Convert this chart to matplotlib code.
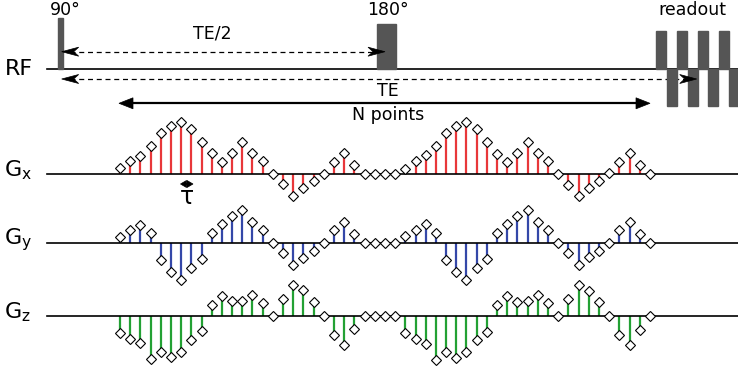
import numpy as np
import matplotlib
matplotlib.use("Agg")
import matplotlib.pyplot as plt
from matplotlib.patches import Polygon, Rectangle

# gradient waveforms, sampled at N points (amplitude in arbitrary units)
gx = [6, 13, 18, 28, 41, 48, 52, 45, 32, 21, 12, 21, 32, 21, 13, 0, -10, -22, -14, -7, 0, 12, 21, 9, 0,
      0, 0, 0,
      5, 13, 19, 28, 41, 48, 52, 45, 32, 20, 12, 21, 32, 21, 13, 0, -11, -22, -14, -7, 1, 12, 21, 9, 0]
gy = [6, 13, 18, 10, -17, -29, -37, -25, -16, 10, 19, 27, 33, 21, 13, 0, -10, -22, -15, -8, 0, 13, 21, 9, 0,
      0, 0, 0,
      7, 13, 19, 10, -17, -29, -37, -25, -16, 10, 19, 27, 33, 21, 13, 0, -10, -22, -14, -8, 0, 13, 21, 9, 0]
gz = [-17, -23, -27, -43, -36, -41, -36, -24, -15, 11, 20, 15, 15, 21, 13, 0, 17, 31, 26, 14, 0, -19, -29, -13, 0,
      0, 0, 0,
      -17, -23, -28, -44, -36, -42, -36, -24, -16, 11, 20, 14, 15, 21, 13, 0, 17, 31, 25, 14, 0, -19, -29, -14, 0]
channels = ["G$_\\mathregular{x}$", "G$_\\mathregular{y}$", "G$_\\mathregular{z}$"]
colors = ["#e8373a", "#3447a8", "#23a134"]

# layout (pixel coords)
W, H = 738, 367
x0, dx = 120, 10.19
rf_y = 69
bases = [174.3, 243.3, 315.7]
line_x0 = 47

fig = plt.figure(figsize=(W / 100, H / 100), dpi=100)
ax = fig.add_axes([0, 0, 1, 1])
ax.set_xlim(0, W)
ax.set_ylim(H, 0)
ax.axis("off")

def stealth(tip, direction, L=17, Wd=9, notch=12):
    tx, ty = tip
    pts = [(tx, ty), (tx - direction * L, ty - Wd / 2),
           (tx - direction * notch, ty), (tx - direction * L, ty + Wd / 2)]
    ax.add_patch(Polygon(pts, closed=True, fc="black", ec="black", lw=0.5, zorder=5))

def triangle(tip, direction, L=14, Wd=11):
    tx, ty = tip
    pts = [(tx, ty), (tx - direction * L, ty - Wd / 2), (tx - direction * L, ty + Wd / 2)]
    ax.add_patch(Polygon(pts, closed=True, fc="black", ec="black", lw=0.5, zorder=5))

fs = 12.5

# --- RF line ---
ax.plot([line_x0, W], [rf_y, rf_y], color="black", lw=1.2)
ax.text(19, rf_y, "RF", fontsize=16, ha="center", va="center")
pulse_c = "#555555"
ax.add_patch(Rectangle((58.3, 18), 5, rf_y - 18, color=pulse_c, zorder=3))
ax.add_patch(Rectangle((376.5, 24), 19.5, rf_y - 24, color=pulse_c, zorder=3))
ax.text(65, 10, "90°", fontsize=fs, ha="center", va="center")
ax.text(388, 10, "180°", fontsize=fs, ha="center", va="center")

# readout
for xs in [656, 676.7, 697.7, 718.7]:
    ax.add_patch(Rectangle((xs, 31), 10, rf_y - 31, color=pulse_c, zorder=3))
for xs in [666.7, 687.5, 708.3, 729.3]:
    ax.add_patch(Rectangle((xs, rf_y), 10, 106 - rf_y, color=pulse_c, zorder=3))
ax.text(692, 10, "readout", fontsize=fs, ha="center", va="center")

# TE/2 arrow
ax.plot([70, 378], [51.7, 51.7], color="black", lw=0.9, ls=(0, (4, 3)))
stealth((61.7, 51.7), -1)
stealth((385, 51.7), 1)
ax.text(212, 34, "TE/2", fontsize=fs, ha="center", va="center")

# TE arrow
ax.plot([70, 688], [79, 79], color="black", lw=0.9, ls=(0, (4, 3)))
stealth((61.7, 79), -1)
stealth((696.7, 79), 1)
ax.text(388, 91, "TE", fontsize=fs, ha="center", va="center")

# N points arrow
ax.plot([128, 642], [103.3, 103.3], color="black", lw=1.6)
triangle((119, 103.3), -1)
triangle((650, 103.3), 1)
ax.text(388, 115, "N points", fontsize=fs, ha="center", va="center")

# --- gradients ---
for vals, name, col, base in zip([gx, gy, gz], channels, colors, bases):
    v = np.array(vals, dtype=float)
    xs = x0 + dx * np.arange(len(v))
    ax.plot([line_x0, W], [base, base], color="black", lw=1.2, zorder=2)
    ax.vlines(xs, base, base - v, color=col, lw=1.6, zorder=1)
    ax.plot(xs, base - v, "D", ms=5.6, mfc="white", mec="black", mew=0.8, zorder=4)
    ax.text(4, base - 4, name, fontsize=16, ha="left", va="center")

# tau marker
tau_y = 184
ax.plot([183, 190], [tau_y, tau_y], color="black", lw=1.2)
triangle((180.5, tau_y), -1, L=6, Wd=7)
triangle((193, tau_y), 1, L=6, Wd=7)
ax.text(186.5, 197, "τ", fontsize=17, ha="center", va="center")

fig.savefig("out.png", dpi=100)
